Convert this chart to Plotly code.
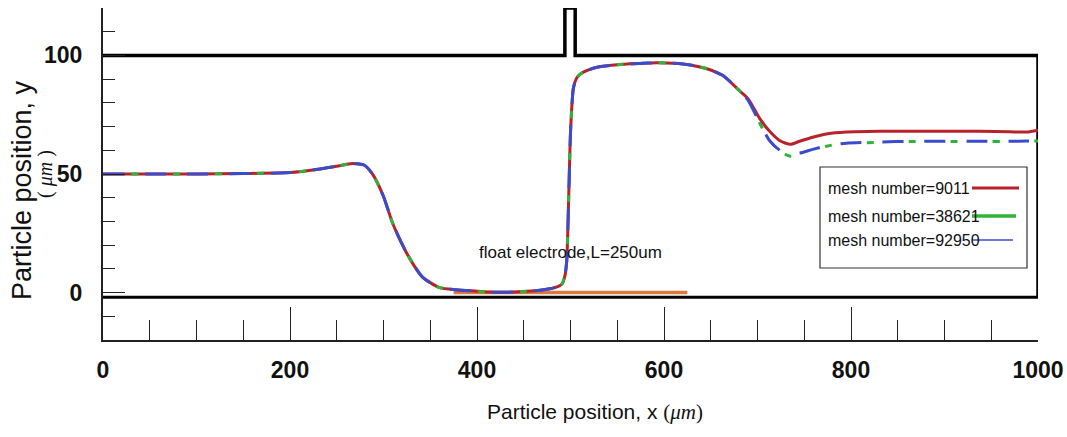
import plotly.graph_objects as go

# ---------------- data ----------------
x_pos = [0, 50, 100, 150, 200, 230, 250, 267, 280, 289, 300, 310, 325, 342, 360, 378,
         400, 414, 430, 449, 465, 478, 487, 491, 494, 496, 498, 500, 503, 506, 510, 520,
         531, 550, 574, 592, 610, 628, 645, 663, 681, 690, 703, 713, 724, 735, 745, 759,
         775, 795, 830, 866, 900, 938, 970, 988, 1000]

common_head = [50, 50, 50, 50.2, 50.6, 52, 53.3, 54.4, 53.6, 49.5, 40.5, 29, 16.5, 6.4, 2.1, 1.2,
               0.6, 0.2, 0.1, 0.4, 0.9, 1.6, 2.6, 3.7, 7, 13.6, 39, 67.5, 86, 90, 92, 94,
               95.2, 96.1, 96.6, 96.9, 96.7, 96, 94.5, 91.5, 85]

y_mesh_9011 = common_head + [81.7, 73, 68, 64, 62.5, 63.8, 65.5, 67, 67.7, 68, 68, 68, 68, 67.8, 67.7, 68.5]
y_mesh_38621 = common_head + [81, 71, 63.5, 59.5, 57.5, 58, 60, 61.8, 62.8, 63.4, 63.7, 63.7, 63.7, 63.7, 63.8, 63.9]
y_mesh_92950 = common_head + [81, 71, 64, 60, 58.3, 58.8, 60.4, 62, 63, 63.5, 63.8, 63.8, 63.8, 63.8, 63.9, 64]

series_names = ["mesh number=9011", "mesh number=38621", "mesh number=92950"]
series_colors = ["#b8232b", "#2fb33a", "#3a4ccc"]

# channel geometry
top_wall_x = [0, 494, 494, 505, 505, 1000, 1000]
top_wall_y = [100, 100, 120, 120, 100, 100, -2]
bottom_wall_x = [0, 1000]
bottom_wall_y = [-2, -2]
electrode_x = [375, 625]
electrode_y = [0, 0]

x_ticks = [0, 200, 400, 600, 800, 1000]
y_ticks = [0, 50, 100]

SANS = "Liberation Sans, Arial"

fig = go.Figure()

# walls
fig.add_trace(go.Scatter(x=top_wall_x, y=top_wall_y, mode="lines",
                         line=dict(color="black", width=3.5), showlegend=False, hoverinfo="skip"))
fig.add_trace(go.Scatter(x=bottom_wall_x, y=bottom_wall_y, mode="lines",
                         line=dict(color="black", width=3), showlegend=False, hoverinfo="skip"))
# electrode
fig.add_trace(go.Scatter(x=electrode_x, y=electrode_y, mode="lines",
                         line=dict(color="#dc7a3c", width=3.5), showlegend=False, hoverinfo="skip"))

# curves
fig.add_trace(go.Scatter(x=x_pos, y=y_mesh_9011, mode="lines", name=series_names[0],
                         line=dict(color=series_colors[0], width=3, shape="spline", smoothing=0.6),
                         showlegend=False))
fig.add_trace(go.Scatter(x=x_pos, y=y_mesh_38621, mode="lines", name=series_names[1],
                         line=dict(color=series_colors[1], width=3, shape="spline", smoothing=0.6,
                                   dash="0px,28px,7px,7px"),
                         showlegend=False))
fig.add_trace(go.Scatter(x=x_pos, y=y_mesh_92950, mode="lines", name=series_names[2],
                         line=dict(color=series_colors[2], width=3, shape="spline", smoothing=0.6,
                                   dash="21px,21px"),
                         showlegend=False))

# manual legend (text left, sample line right)
px = lambda v: (v - 103) / 935.0
py = lambda v: (340 - v) / 332.0
shapes = [dict(type="rect", xref="paper", yref="paper",
               x0=px(820), x1=px(1027), y0=py(268), y1=py(167),
               line=dict(color="#333333", width=1.2), fillcolor="white", layer="above")]
annotations = []
leg_y = [188, 216, 240]
leg_x1 = [1019, 1016, 1013]
leg_w = [3, 3.5, 1.5]
for i in range(3):
    annotations.append(dict(xref="paper", yref="paper", x=px(826), y=py(leg_y[i]),
                            text=series_names[i], showarrow=False, xanchor="left", yanchor="middle",
                            font=dict(family=SANS, size=16, color="#111111")))
    shapes.append(dict(type="line", xref="paper", yref="paper",
                       x0=px(972), x1=px(leg_x1[i]), y0=py(leg_y[i]), y1=py(leg_y[i]),
                       line=dict(color=series_colors[i], width=leg_w[i]), layer="above"))

annotations.append(dict(x=500, y=17, xref="x", yref="y", text="float electrode,L=250um",
                        showarrow=False, font=dict(family=SANS, size=17, color="#111111")))

# y axis title (two lines)
annotations.append(dict(xref="paper", yref="paper", x=0, y=0.5, xshift=-81, yshift=-16,
                        textangle=-90, xanchor="center", yanchor="middle",
                        text="Particle position, y", showarrow=False,
                        font=dict(family=SANS, size=27, color="#111111")))
annotations.append(dict(xref="paper", yref="paper", x=0, y=0.5, xshift=-58, textangle=-90,
                        xanchor="center", yanchor="middle",
                        text="( <i>μm</i> )", showarrow=False,
                        font=dict(family="Liberation Serif, Times New Roman", size=20, color="#111111")))
# x axis title
annotations.append(dict(xref="paper", yref="paper", x=px(595), y=0, yshift=-72,
                        xanchor="center", yanchor="middle",
                        text="Particle position, x <span style=\"font-family:'Liberation Serif'\">(<i>μm</i>)</span>",
                        showarrow=False,
                        font=dict(family=SANS, size=21, color="#111111")))

fig.update_layout(
    width=1067, height=437,
    margin=dict(l=103, r=29, t=8, b=97, autoexpand=False),
    plot_bgcolor="white", paper_bgcolor="white",
    shapes=shapes, annotations=annotations, showlegend=False,
    xaxis=dict(range=[0, 1000], tickvals=x_ticks, ticks="inside", ticklen=33, tickwidth=1.2,
               tickcolor="#222222", showline=True, linecolor="#222222", linewidth=2,
               showgrid=False, zeroline=False, ticklabeloverflow="allow", automargin=False,
               minor=dict(dtick=50, ticks="inside", ticklen=20, tickwidth=1.2, tickcolor="#222222", showgrid=False),
               tickfont=dict(family=SANS, size=23, color="#111111", weight="bold"),
               ticklabelstandoff=8),
    yaxis=dict(range=[-20, 120], tickvals=y_ticks, ticks="inside", ticklen=22, tickwidth=1.2,
               tickcolor="#222222", showline=True, linecolor="#222222", linewidth=2,
               showgrid=False, zeroline=False, automargin=False,
               minor=dict(dtick=10, ticks="inside", ticklen=12, tickwidth=1.2, tickcolor="#222222", showgrid=False),
               tickfont=dict(family=SANS, size=23, color="#111111", weight="bold"),
               ticklabelstandoff=14),
)

fig.write_html("out.html")
